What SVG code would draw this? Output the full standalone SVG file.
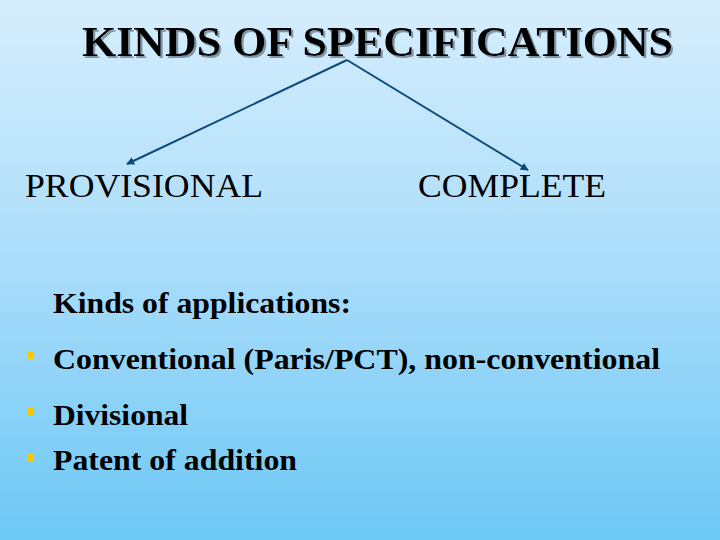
<svg xmlns="http://www.w3.org/2000/svg" width="720" height="540" viewBox="0 0 720 540">
<defs>
<linearGradient id="bg" x1="0" y1="0" x2="0" y2="1">
<stop offset="0" stop-color="#d6eefd"/>
<stop offset="0.5" stop-color="#a9dcfa"/>
<stop offset="1" stop-color="#6cc8f5"/>
</linearGradient>
<filter id="sh" x="-5%" y="-20%" width="110%" height="140%">
<feDropShadow dx="2" dy="2" stdDeviation="0.3" flood-color="#7f95a6"/>
</filter>
<marker id="ah" viewBox="0 0 10 10" refX="9" refY="5" markerWidth="4" markerHeight="4" orient="auto">
<path d="M0,0 L10,5 L0,10 z" fill="#0d4a7a"/>
</marker>
<style>
text{font-family:'Liberation Serif','Times New Roman','DejaVu Serif',serif;fill:#000}
.b{font-weight:bold;font-size:30px}
.r{font-size:34px}
.bul{fill:#f7c800}
</style>
</defs>
<rect width="720" height="540" fill="url(#bg)"/>
<g id="title" font-size="42" font-weight="bold">
<text x="82" y="56" textLength="591" lengthAdjust="spacingAndGlyphs" filter="url(#sh)">KINDS OF SPECIFICATIONS</text>
</g>
<g id="connectors" stroke="#0d4a7a" stroke-width="2" fill="none">
<line x1="347" y1="60" x2="127" y2="164" marker-end="url(#ah)"/>
<line x1="347" y1="60" x2="528" y2="170" marker-end="url(#ah)"/>
</g>
<g id="provisional"><text class="r" x="25" y="197" textLength="238" lengthAdjust="spacingAndGlyphs">PROVISIONAL</text></g>
<g id="complete"><text class="r" x="418" y="197" textLength="188" lengthAdjust="spacingAndGlyphs">COMPLETE</text></g>
<g id="list">
<text class="b" x="53" y="313" textLength="298" lengthAdjust="spacingAndGlyphs">Kinds of applications:</text>
<rect class="bul" x="28" y="352" width="6" height="7"/>
<text class="b" x="53" y="369" textLength="607" lengthAdjust="spacingAndGlyphs">Conventional (Paris/PCT), non-conventional</text>
<rect class="bul" x="28" y="408" width="6" height="7"/>
<text class="b" x="53" y="425" textLength="135" lengthAdjust="spacingAndGlyphs">Divisional</text>
<rect class="bul" x="28" y="454" width="6" height="7"/>
<text class="b" x="53" y="470" textLength="244" lengthAdjust="spacingAndGlyphs">Patent of addition</text>
</g>
</svg>
